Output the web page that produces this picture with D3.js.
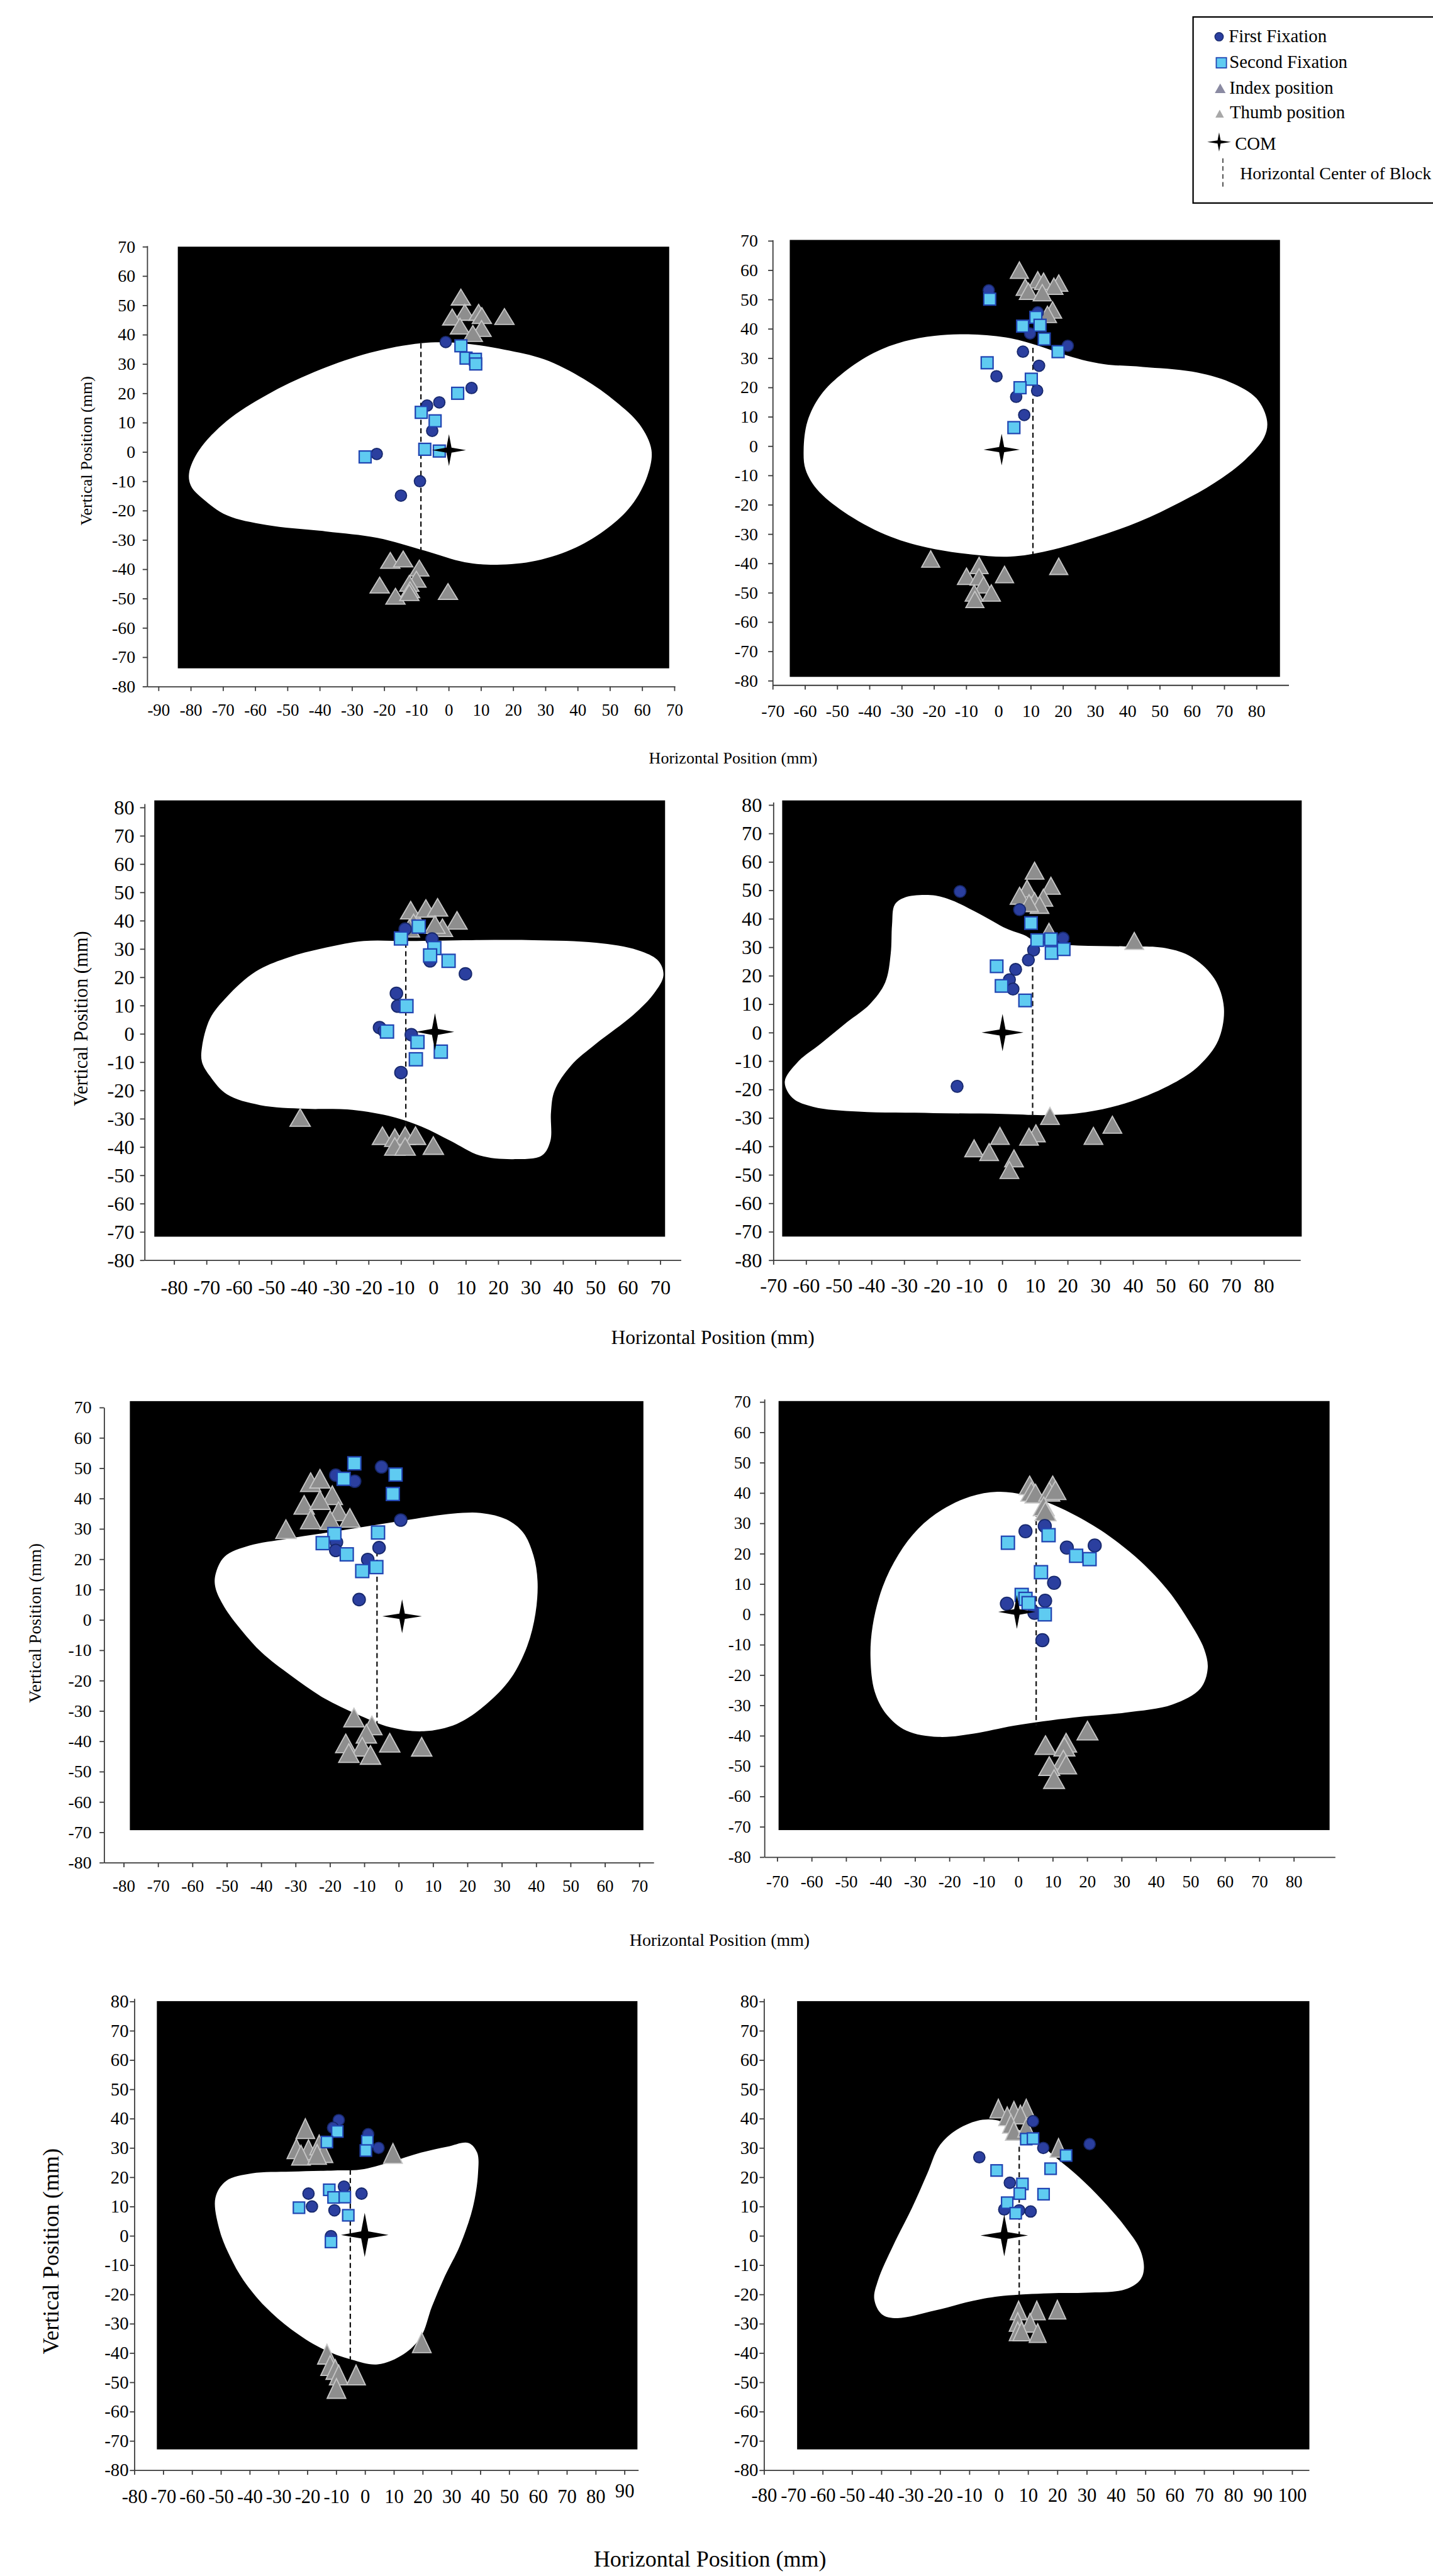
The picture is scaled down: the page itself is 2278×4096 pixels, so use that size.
<!DOCTYPE html>
<html>
<head>
<meta charset="utf-8">
<script src="https://cdn.jsdelivr.net/npm/d3@7"></script>
<style>body{margin:0;background:#fff}</style>
</head>
<body>
<div id="chart"></div>
<script>
// positions in mm, one entry per panel (row by row, left then right)
const firstFixation = [
  [[-0.9,37.5],[7.1,21.8],[-6.7,15.8],[-2.9,16.9],[-5.1,7.2],[-22.3,-0.7],[-8.9,-10],[-14.8,-14.9]],
  [[-3,53.1],[12.2,45.6],[9.8,38.4],[7.6,32.2],[21.5,34.2],[12.6,27.4],[-0.6,23.8],[12,18.9],[5.5,16.8],[8,10.6]],
  [[-8.7,37],[-0.4,33.5],[-1,25.8],[9.9,21.2],[-11.4,14.3],[-11,9.8],[-16.6,2.2],[-6.8,-0.3],[-10,-13.7],[-15.1,1]],
  [[-12.9,49.6],[5.3,43.2],[18.6,33.2],[9.6,29],[8,25.5],[4.1,22.2],[2.2,18.6],[3.3,15.3],[-13.8,-18.9]],
  [[-18.3,47.7],[-12.8,45.7],[-5,50.4],[0.6,32.9],[-18.1,25.6],[-18.3,22.9],[-5.7,23.8],[-9,19.9],[-11.5,6.7]],
  [[7.7,29.1],[2.1,27.4],[14.1,22],[22.2,22.7],[10.4,10.4],[-3.3,3.5],[7.8,4.5],[4.7,0.5],[7,-8.5]],
  [[-9.1,39.5],[-11.1,36.9],[1.1,34.7],[4.7,30],[-19.6,14.4],[-18.4,10],[-7.3,16.8],[-1.2,14.4],[-10.6,8.7],[-11.8,-0.1]],
  [[11.7,39.1],[15.2,30],[31,31.3],[-6.6,26.8],[3.8,18.1],[1.9,9],[7,8.7],[10.9,8.3]]
];
const secondFixation = [
  [[3.8,36.2],[5.4,32],[8.3,31.6],[8.4,30],[2.8,20],[-8.5,13.5],[-4.2,10.6],[-7.4,0.9],[-2.9,0.3],[-25.9,-1.7]],
  [[-2.7,50.1],[11.6,43.9],[7.5,40.9],[12.9,41.2],[14.2,36.5],[18.5,32.2],[-3.5,28.4],[10.2,22.8],[6.7,19.9],[4.8,6.3]],
  [[-4.5,37.9],[-10,33.7],[0.3,30.3],[-1,27.7],[4.7,25.8],[-8.3,9.8],[-14.3,0.8],[-4.9,-2.9],[2.3,-6.3],[-5.4,-9]],
  [[8.8,38.5],[10.7,32.5],[14.9,32.8],[15.1,28],[18.8,29.3],[-1.7,23.3],[-0.2,16.4],[7,11.3]],
  [[-12.9,51.6],[-16,46.5],[-0.9,47.9],[-1.7,41.5],[-18.7,28.3],[-22.1,25.3],[-6,28.8],[-15.1,21.6],[-10.6,16.1],[-6.5,17.4]],
  [[8.8,26.1],[-3,23.6],[16.8,19.3],[20.7,18.2],[6.6,13.9],[1,6.4],[2.1,5.1],[3,3.7],[7.7,0]],
  [[-9.6,35.6],[-13.2,32],[0.8,32.3],[0.3,29.1],[-12.4,15.7],[-10.9,13.1],[-7,13.2],[-22.9,9.6],[-5.8,7],[-11.8,-2.1]],
  [[9.4,33],[11.7,33.2],[23,27.4],[-0.7,22.3],[17.7,22.9],[8.1,17.7],[7.2,14.4],[15.3,14.2],[2.9,11.3],[5.8,7.7]]
];
const indexPosition = [
  [[3.8,52.8],[5,47.6],[1.1,46],[9.3,47.6],[10.3,46.5],[17.3,46.2],[3.5,42.9],[10.2,42.1],[7.5,40.4]],
  [[6.5,60],[12.2,56.7],[14,56.2],[18.7,55.6],[8.3,54.2],[17.2,54.5],[9.3,52.8],[13.6,52.3],[16.8,46.4],[15.2,44.9]],
  [[-7,43.7],[-2.3,44.3],[1.3,44.7],[7.3,40.1],[2.8,37.5],[0.5,38.6],[-6.1,39.2],[-7.4,37.3]],
  [[9.9,56.9],[14.9,51.6],[7.6,50.6],[5.3,48.1],[12.6,47.4],[9.9,46.2],[11.4,44.9],[8.2,45.5],[14.3,35.4],[40.4,32.2]],
  [[-25.6,45.4],[-22.9,46.5],[-19.3,41.1],[-27.5,37.9],[-22.9,39.5],[-17.5,35.8],[-25.6,33.1],[-19.9,32.9],[-14.2,33.6],[-32.8,29.9]],
  [[3.3,42.5],[10,42.5],[3.8,40.4],[5,39.8],[9,40.4],[10.8,40.9],[7.4,35.6],[7.9,33.9]],
  [[-20.7,36.6],[-23.8,29.7],[-19.6,29.4],[-15.9,31],[-14.4,28.4],[-22.2,27.5],[9.7,28.1],[-16.6,27.8]],
  [[-0.1,43.4],[5.2,42.7],[9.4,43.4],[2.9,40.8],[7.4,41.4],[4.2,38.2],[5.2,35.8],[9.4,36.9],[20.4,30]]
];
const thumbPosition = [
  [[-18.1,-37],[-14.1,-36.5],[-9.1,-39.6],[-10,-43.4],[-12.2,-44.8],[-12,-47],[-21.4,-45.4],[-16.5,-49.2],[-0.2,-47.6],[-12.2,-48]],
  [[-21,-38.5],[-6,-40.7],[-9.9,-44.4],[1.9,-43.8],[18.7,-41],[-6,-44.6],[-4.6,-47.3],[-7.5,-50.1],[-2.2,-50.1],[-7.3,-52.3]],
  [[-41.1,-29.6],[-15.7,-36],[-11.9,-36.7],[-8.7,-36],[-5.5,-36],[-11.9,-39.8],[-8.7,-39.8],[0,-39.5]],
  [[14.6,-29.3],[33.7,-32.4],[27.9,-36.3],[10.3,-35.4],[8.2,-36.6],[-0.7,-36.3],[-8.6,-40.7],[-4,-42],[3.6,-44.2],[2.2,-48.3]],
  [[-13,-32.2],[-7.8,-34.8],[-9.4,-37.5],[-15.4,-40.7],[-2.6,-40.5],[6.7,-41.8],[-10.6,-41.8],[-14.5,-43.9],[-8.2,-44.5]],
  [[20.1,-38.3],[7.9,-43.1],[13.9,-42.3],[13.4,-43.6],[13.1,-47.9],[13.9,-49.5],[9,-50],[10.4,-54.3]],
  [[19.7,-36.5],[-13.2,-40.4],[-12.1,-44.3],[-10.3,-45.6],[-9.1,-47.5],[-3.1,-47.5],[-9.9,-52.1]],
  [[6.8,-25.5],[13,-25.5],[20,-25.2],[6.5,-29.4],[10.7,-29.7],[6.5,-32.6],[7.8,-32.6],[13.3,-33.2]]
];
const com = [[0.1,0.6],[1,-1.2],[0.5,0.7],[0.1,0],[1,1.2],[-0.4,0.8],[-0.1,0.3],[1.9,0.1]];
// horizontal centre of block: [x, yTop, yBottom]
const blockCenter = [[-8.6,37,-33.7],[10.7,33.5,-36.8],[-8.5,32.2,-38],[9.3,29,-29.3],
                     [-6.3,31,-34.3],[5.2,33.9,-36.7],[-5.1,22.6,-42.3],[7,30.4,-20.3]];
// block outlines (mm)
const blockOutline = [
  [[-80.5,-7.2],[-77.4,0.6],[-68.8,10.6],[-56.5,19.4],[-41.8,27.2],[-24.5,33.8],[-8.5,37.1],[3.8,37.1],[17.3,34.9],[29.6,31.6],[41.9,24.9],[51.8,17.2],[59.2,9.4],[62.9,0.6],[61.6,-8.3],[56.7,-18.2],[49.3,-26],[39.5,-32.6],[27.2,-37.1],[14.9,-38.5],[5,-37.6],[-7.3,-33.7],[-22.1,-29.3],[-38.1,-27.1],[-56.5,-24.9],[-68.8,-21.6],[-76.2,-16],[-79.9,-11.6]],
  [[-60.4,-1.4],[-59.2,8.5],[-55.1,17.4],[-48,25.1],[-38.6,31.8],[-29.2,35.7],[-19.8,37.6],[-8.1,38.1],[3.7,36.8],[13,34],[20.1,31.3],[26,29.4],[33,27.9],[44.8,27],[60,25.4],[71.8,21.8],[80,16.3],[83.3,8.6],[82.4,3],[76.5,-4.7],[67.1,-12.5],[56.5,-19.1],[43.6,-25.8],[29.5,-31.3],[15.4,-35.7],[3.7,-37.7],[-8.1,-37],[-22.2,-34.6],[-35.1,-30.2],[-48,-22.4],[-56.3,-14.7],[-59.8,-8]],
  [[-71.4,-4.8],[-68.9,5.4],[-63.7,13.1],[-54.8,22],[-44.5,27.1],[-33,30.5],[-21.5,32.8],[-7.4,32.8],[11.8,33.1],[31,33.1],[50.2,32.2],[63,29.6],[69.4,25.8],[71,20.7],[68.1,14.3],[61.7,6.7],[50.2,-3.5],[42.5,-11.2],[37.4,-20.1],[36.3,-27.7],[36.1,-37.9],[33.5,-43],[24.6,-44.3],[14.3,-43],[5.4,-37.9],[-3.6,-32.8],[-13.8,-29],[-26.6,-26.7],[-39.4,-26.5],[-53.5,-25.2],[-63.7,-21.4],[-68.9,-15],[-71.4,-9.9]],
  [[-66.5,-17.2],[-62.5,-10.3],[-55.5,-3.9],[-47.4,3.7],[-40.5,10],[-35.8,17.6],[-34.1,27.8],[-33.7,37.9],[-32.9,44.9],[-30,47.4],[-21.9,48.3],[-16.1,46.8],[-6.9,41.7],[1.2,36.6],[7,34.1],[10.5,31.8],[23.2,30.6],[37.1,30.3],[49.9,29.7],[58,26.5],[64.9,18.9],[67.8,8.8],[66.1,-2.7],[60.3,-11.5],[52.2,-17.9],[39.5,-24.2],[25.6,-28],[14,-29],[0.1,-28.6],[-20.8,-28.3],[-43.9,-27.8],[-57.8,-26.1],[-64.2,-22.9]],
  [[-53.3,14.9],[-50.7,20.8],[-43.4,24.5],[-32.6,26.7],[-20.5,28.8],[-8.4,31],[3.6,33.1],[15.7,35],[24.2,35.2],[31.4,33.1],[36.2,28.8],[39.2,21.3],[40.4,12.8],[39.8,2.1],[37.4,-8.6],[32.6,-19.3],[25.4,-27.9],[16.9,-34.3],[7.3,-36.7],[-2.4,-35.4],[-12.1,-31.1],[-21.7,-25.8],[-31.4,-18.3],[-39.8,-10.8],[-45.8,-3.3],[-50.7,4.2],[-53.3,10.6]],
  [[-42.9,-14.7],[-42.3,-3.9],[-39.4,9],[-34.8,19.7],[-29,28.3],[-22.1,34.5],[-14,38.8],[-6,40.4],[2.1,39.3],[10.2,36.1],[17.1,32.3],[26.3,25.9],[35.6,17.4],[43.6,7.7],[49.4,-1.9],[54,-11.5],[55,-17.9],[52.9,-24.4],[44.8,-29.7],[31,-32.4],[16,-34],[-1.3,-36.7],[-12.9,-39.3],[-23.3,-40.4],[-32.5,-38.3],[-38.3,-32.9],[-41.7,-25.4]],
  [[-51.9,12.9],[-48.2,18.7],[-39.2,21.3],[-25.6,21.9],[-10.6,22.3],[-1.6,22.6],[8.9,25.2],[19.4,28.4],[28.4,30.4],[35.9,31.7],[38.9,28.4],[39.2,21.3],[37.4,9.6],[32.9,-3.4],[27.7,-13.8],[23.2,-24.2],[19.4,-34.5],[13.4,-40.4],[4.4,-43.9],[-4.6,-42.3],[-15.1,-38.4],[-25.6,-31.9],[-34.6,-24.2],[-42.2,-15.1],[-46.7,-7.3],[-50.4,1.8]],
  [[-42.4,-21.6],[-41.1,-15.1],[-36,-3.4],[-29.5,9.6],[-24.3,21.3],[-20.4,30.4],[-15.2,35.6],[-7.5,39.2],[-1,39.5],[5.5,36.9],[12,33],[19.7,26.5],[27.5,20],[35.3,12.2],[43.1,3.1],[48.2,-4.7],[49.5,-11.2],[48.2,-15.1],[43.1,-18.3],[30.1,-19.4],[17.2,-19.6],[1.6,-20.5],[-8.8,-22.2],[-21.7,-25.5],[-34.7,-28.1],[-39.8,-26.8]]
];
// axis tick ranges [first, last] in mm
const xTickRange = [[-90,70],[-70,80],[-80,70],[-70,80],[-80,70],[-70,80],[-80,90],[-80,100]];
const yTickRange = [[-80,70],[-80,70],[-80,80],[-80,80],[-80,70],[-80,70],[-80,80],[-80,80]];
const yTitle = "Vertical Position (mm)";
const xTitle = "Horizontal Position (mm)";
const legendLabels = ["First Fixation","Second Fixation","Index position","Thumb position","COM","Horizontal Center of Block"];

// ---- layout (reference pixels) ----
const panels = [
  {xCal:[-90,280,70,1192], yCal:[70,436.2,-80,1213.9], yAxisX:-93.5, xEnd:70.2, xAxisY:-80, yTop:70.3,
   frame:[-84,68.4,-73.8,70], xOff:41, yGap:21, xFont:30, yFont:31, r:10, sq:21, triW:34, triH:28, starW:30, starH:28},
  {xCal:[-70,1365.8,80,2221], yCal:[70,425.8,-80,1203.6], yAxisX:-70, xEnd:90, xAxisY:-81.5, yTop:70.3,
   frame:[-64.7,87.3,-78.7,70.3], xOff:46, yGap:26, xFont:31, yFont:31, r:10, sq:21, triW:32, triH:29, starW:32, starH:28},
  {xCal:[-80,307.6,70,1167], yCal:[80,1427.8,-80,2228.3], yAxisX:-89.1, xEnd:76.4, xAxisY:-80, yTop:81.3,
   frame:[-86.1,71.5,-71.7,82.5], xOff:48, yGap:18, xFont:36, yFont:36, r:11, sq:23, triW:36, triH:31, starW:34, starH:33},
  {xCal:[-70,1367,80,2234], yCal:[80,1423.4,-80,2228.3], yAxisX:-70, xEnd:91.2, xAxisY:-80, yTop:81,
   frame:[-67.3,91.6,-71.7,81.6], xOff:45, yGap:20, xFont:36, yFont:36, r:10.5, sq:22, triW:33, triH:30, starW:37, starH:33},
  {xCal:[-80,218.5,70,1130], yCal:[70,2488.8,-80,3293.6], yAxisX:-85.7, xEnd:74.2, xAxisY:-80, yTop:70,
   frame:[-78.2,71.2,-69.3,72.1], xOff:41, yGap:22, xFont:30, yFont:31, r:11, sq:23, triW:36, triH:33, starW:35, starH:30},
  {xCal:[-70,1373.8,80,2287], yCal:[70,2479,-80,3283.8], yAxisX:-73.7, xEnd:92, xAxisY:-80, yTop:70.9,
   frame:[-69.6,90.4,-71.1,70.3], xOff:43, yGap:24, xFont:30, yFont:30, r:11.5, sq:23, triW:37, triH:33, starW:33, starH:30},
  {xCal:[-80,237.4,90,1103.8], yCal:[80,3539,-80,4367.9], yAxisX:-80, xEnd:94.8, xAxisY:-80, yTop:81,
   frame:[-72.2,94.5,-72.9,80.1], xOff:47, yGap:10, xFont:34, yFont:32, r:10, sq:20, triW:33, triH:35, starW:42, starH:39, raised:90},
  {xCal:[-80,1350.4,100,2284], yCal:[80,3539,-80,4367.9], yAxisX:-80, xEnd:105.8, xAxisY:-80, yTop:81,
   frame:[-68.7,105.9,-72.9,80.1], xOff:44, yGap:10, xFont:34, yFont:32, r:10, sq:20, triW:30, triH:33, starW:42, starH:37}
];
const yTitles = [{x:151.6,y:797,size:29},{x:142.5,y:1801,size:34},{x:60.8,y:2870,size:31},{x:89.7,y:3981,size:40}];
const xTitles = [{x:1296,y:1350,size:29},{x:1260,y:2377,size:35},{x:1272,y:3441,size:31},{x:1255,y:4538,size:40}];

const font = "'Liberation Serif','Times New Roman',serif";
const svg = d3.select("#chart").append("svg")
  .attr("width", 2278).attr("height", 4096)
  .attr("viewBox", "0 0 2533 4555");
svg.append("rect").attr("width", 2533).attr("height", 4555).attr("fill", "#fff");

function starPath(w, h) {
  const i = Math.min(w, h) * 0.16;
  return `M0,${-h}L${i},${-i}L${w},0L${i},${i}L0,${h}L${-i},${i}L${-w},0L${-i},${-i}Z`;
}
function triPath(w, h) {
  return `M0,${-h/2}L${w/2},${h/2}L${-w/2},${h/2}Z`;
}

function drawPanel(p, i) {
  const x = d3.scaleLinear().domain([p.xCal[0], p.xCal[2]]).range([p.xCal[1], p.xCal[3]]);
  const y = d3.scaleLinear().domain([p.yCal[0], p.yCal[2]]).range([p.yCal[1], p.yCal[3]]);
  const g = svg.append("g");

  g.append("rect")
    .attr("x", x(p.frame[0])).attr("y", y(p.frame[3]))
    .attr("width", x(p.frame[1]) - x(p.frame[0]))
    .attr("height", y(p.frame[2]) - y(p.frame[3]))
    .attr("fill", "#000");

  const outline = d3.line()
    .x(d => x(d[0])).y(d => y(d[1]))
    .curve(d3.curveCatmullRomClosed.alpha(0.5));
  g.append("path").attr("d", outline(blockOutline[i])).attr("fill", "#fff");

  const c = blockCenter[i];
  g.append("line")
    .attr("x1", x(c[0])).attr("x2", x(c[0]))
    .attr("y1", y(c[1])).attr("y2", y(c[2]))
    .attr("stroke", "#111").attr("stroke-width", 2.5)
    .attr("stroke-dasharray", "9,6");

  g.selectAll(null)
    .data(indexPosition[i].concat(thumbPosition[i]))
    .enter().append("path")
    .attr("d", triPath(p.triW, p.triH))
    .attr("transform", d => `translate(${x(d[0])},${y(d[1])})`)
    .attr("fill", "#8e8e8e").attr("stroke", "#c6c6c6").attr("stroke-width", 2);

  g.selectAll(null)
    .data(firstFixation[i])
    .enter().append("circle")
    .attr("cx", d => x(d[0])).attr("cy", d => y(d[1])).attr("r", p.r)
    .attr("fill", "#2b3f9f").attr("stroke", "#17286c").attr("stroke-width", 2);

  g.selectAll(null)
    .data(secondFixation[i])
    .enter().append("rect")
    .attr("x", d => x(d[0]) - p.sq / 2).attr("y", d => y(d[1]) - p.sq / 2)
    .attr("width", p.sq).attr("height", p.sq)
    .attr("fill", "#5fcbf1").attr("stroke", "#2145b2").attr("stroke-width", 2.5);

  g.append("path")
    .attr("d", starPath(p.starW, p.starH))
    .attr("transform", `translate(${x(com[i][0])},${y(com[i][1])})`)
    .attr("fill", "#000");

  // axes
  const xa = x.copy().domain([p.yAxisX, p.xEnd]).range([x(p.yAxisX), x(p.xEnd)]);
  const ya = y.copy().domain([p.xAxisY, p.yTop]).range([y(p.xAxisY), y(p.yTop)]);
  const xt = d3.range(xTickRange[i][0], xTickRange[i][1] + 1, 10);
  const yt = d3.range(yTickRange[i][0], yTickRange[i][1] + 1, 10);

  const gx = g.append("g")
    .attr("transform", `translate(0,${y(p.xAxisY)})`)
    .call(d3.axisBottom(xa).tickValues(xt).tickSize(8).tickSizeOuter(0)
      .tickPadding(p.xOff - 8 - 0.37 * p.xFont).tickFormat(d => String(d)));
  gx.attr("font-size", p.xFont).attr("font-family", font);
  gx.selectAll("text").style("font-family", font);
  if (p.raised !== undefined) {
    gx.selectAll(".tick text").filter(d => d === p.raised).attr("transform", "translate(0,-11)");
  }

  const gy = g.append("g")
    .attr("transform", `translate(${x(p.yAxisX)},0)`)
    .call(d3.axisLeft(ya).tickValues(yt).tickSize(8).tickSizeOuter(0)
      .tickPadding(p.yGap - 8).tickFormat(d => String(d)));
  gy.attr("font-size", p.yFont).attr("font-family", font);
  gy.selectAll("text").style("font-family", font);

  g.selectAll(".domain, .tick line").attr("stroke", "#3a3a3a").attr("stroke-width", 2);
}

panels.forEach(drawPanel);

yTitles.forEach(t => {
  svg.append("text")
    .attr("transform", `translate(${t.x},${t.y}) rotate(-90)`)
    .attr("dy", "0.35em")
    .attr("text-anchor", "middle")
    .attr("font-family", font).attr("font-size", t.size)
    .text(yTitle);
});
xTitles.forEach(t => {
  svg.append("text")
    .attr("x", t.x).attr("y", t.y)
    .attr("text-anchor", "middle")
    .attr("font-family", font).attr("font-size", t.size)
    .text(xTitle);
});

// legend
const lg = svg.append("g");
lg.append("rect").attr("x", 2109).attr("y", 30).attr("width", 460).attr("height", 329)
  .attr("fill", "#fff").attr("stroke", "#000").attr("stroke-width", 2.5);
lg.append("circle").attr("cx", 2155).attr("cy", 65).attr("r", 7.5)
  .attr("fill", "#2b3f9f").attr("stroke", "#17286c").attr("stroke-width", 1.5);
lg.append("rect").attr("x", 2150).attr("y", 102).attr("width", 18).attr("height", 18)
  .attr("fill", "#5fcbf1").attr("stroke", "#2145b2").attr("stroke-width", 2);
lg.append("path").attr("d", triPath(19, 17)).attr("transform", "translate(2157,156)").attr("fill", "#8a8aa2");
lg.append("path").attr("d", triPath(15, 14)).attr("transform", "translate(2156,201)").attr("fill", "#a8a8a8");
lg.append("path").attr("d", starPath(21, 17)).attr("transform", "translate(2155,251)").attr("fill", "#000");
lg.append("line").attr("x1", 2161.7).attr("x2", 2161.7).attr("y1", 280).attr("y2", 334)
  .attr("stroke", "#444").attr("stroke-width", 2).attr("stroke-dasharray", "8,6");
const legendPos = [[2172,75,32],[2173,120,32],[2173,166,32],[2174,209,32],[2183,265,32],[2192,317,31]];
legendLabels.forEach((t, k) => {
  lg.append("text").attr("x", legendPos[k][0]).attr("y", legendPos[k][1])
    .attr("font-family", font).attr("font-size", legendPos[k][2]).text(t);
});
</script>
</body>
</html>
